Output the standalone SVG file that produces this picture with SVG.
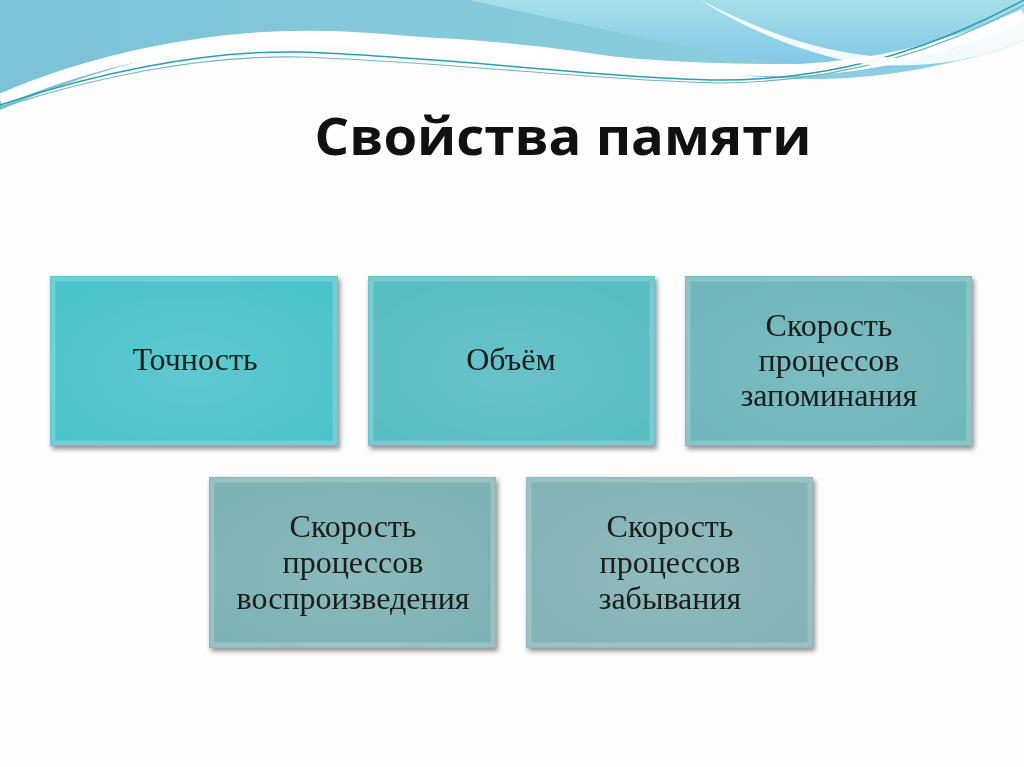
<svg xmlns="http://www.w3.org/2000/svg" width="1024" height="767" viewBox="0 0 1024 767">
<defs>
<linearGradient id="sky" x1="0" y1="0" x2="1" y2="0"><stop offset="0" stop-color="#7cc3d8"/><stop offset="1" stop-color="#8fd0e0"/></linearGradient>
<linearGradient id="sky2" x1="0" y1="0" x2="0" y2="1"><stop offset="0" stop-color="#a6dfe8"/><stop offset="1" stop-color="#7fc6e6"/></linearGradient>
<filter id="sh" x="-10%" y="-10%" width="125%" height="125%"><feGaussianBlur in="SourceAlpha" stdDeviation="2.5"/><feOffset dx="2" dy="3"/><feComponentTransfer><feFuncA type="linear" slope="0.45"/></feComponentTransfer><feMerge><feMergeNode/><feMergeNode in="SourceGraphic"/></feMerge></filter>
<radialGradient id="glow" cx="0.5" cy="0.55" r="0.6"><stop offset="0" stop-color="#fff" stop-opacity="0.1"/><stop offset="1" stop-color="#fff" stop-opacity="0"/></radialGradient>
</defs>
<style>
.box{filter:url(#sh)}
.bevel{fill:none;stroke:#fff;stroke-opacity:0.2;stroke-width:5}
.t{font-family:"Liberation Serif","DejaVu Serif",serif;font-size:32px;fill:#1a1a1a;text-anchor:middle}
</style>
<rect width="1024" height="767" fill="#fdfdfd"/>
<g id="background">
<path d="M0,0 H1024 V40 C900,85 800,85 700,70 C600,55 500,35 330,35 C200,36 80,75 0,110 Z" fill="url(#sky)"/>
<path d="M470,0 H1024 V40 C960,70 880,72 780,62 C690,50 560,20 470,0 Z" fill="url(#sky2)"/>
<path d="M0,100 C80,65 200,33 330,37 C470,42 600,72 800,70 C900,65 980,35 1024,15" fill="none" stroke="#fff" stroke-width="12"/>
<path d="M0,105 C90,75 200,50 300,52 C450,57 600,78 720,80 C850,80 950,40 1024,0" fill="none" stroke="#2a9fb0" stroke-width="1.5"/>
<path d="M0,108 C90,78 200,55 300,57 C450,62 600,81 720,83 C850,82 950,45 1024,5" fill="none" stroke="#6fb7c0" stroke-width="1.2"/>
<path d="M700,0 C760,30 820,55 900,58 C950,55 990,35 1024,20 V40 C980,60 930,68 870,65 C800,55 740,25 700,0 Z" fill="#fff" opacity="0.9"/>
</g>
<text x="563" y="155" font-family="'Open Sans','Liberation Sans',sans-serif" font-weight="bold" font-size="52" fill="#111" text-anchor="middle" textLength="497" lengthAdjust="spacingAndGlyphs">Свойства памяти</text>
<g id="n1" class="box"><rect x="50" y="276" width="288" height="170" fill="#4cc3cb"/><rect x="50" y="276" width="288" height="170" fill="url(#glow)"/><rect x="53" y="279" width="282" height="164" class="bevel"/><text class="t" x="195" y="370">Точность</text></g>
<g id="n2" class="box"><rect x="368" y="276" width="287" height="170" fill="#58bdc3"/><rect x="368" y="276" width="287" height="170" fill="url(#glow)"/><rect x="371" y="279" width="281" height="164" class="bevel"/><text class="t" x="511" y="370">Объём</text></g>
<g id="n3" class="box"><rect x="685" y="276" width="287" height="170" fill="#6fb6ba"/><rect x="685" y="276" width="287" height="170" fill="url(#glow)"/><rect x="688" y="279" width="281" height="164" class="bevel"/><text class="t" x="829" y="336">Скорость</text><text class="t" x="829" y="371">процессов</text><text class="t" x="829" y="406">запоминания</text></g>
<g id="n4" class="box"><rect x="209" y="477" width="287" height="171" fill="#7db2b4"/><rect x="209" y="477" width="287" height="171" fill="url(#glow)"/><rect x="212" y="480" width="281" height="165" class="bevel"/><text class="t" x="353" y="537">Скорость</text><text class="t" x="353" y="573">процессов</text><text class="t" x="353" y="609">воспроизведения</text></g>
<g id="n5" class="box"><rect x="526" y="477" width="287" height="171" fill="#83b3b5"/><rect x="526" y="477" width="287" height="171" fill="url(#glow)"/><rect x="529" y="480" width="281" height="165" class="bevel"/><text class="t" x="670" y="537">Скорость</text><text class="t" x="670" y="573">процессов</text><text class="t" x="670" y="609">забывания</text></g>
<g id="connectors"/>
</svg>
